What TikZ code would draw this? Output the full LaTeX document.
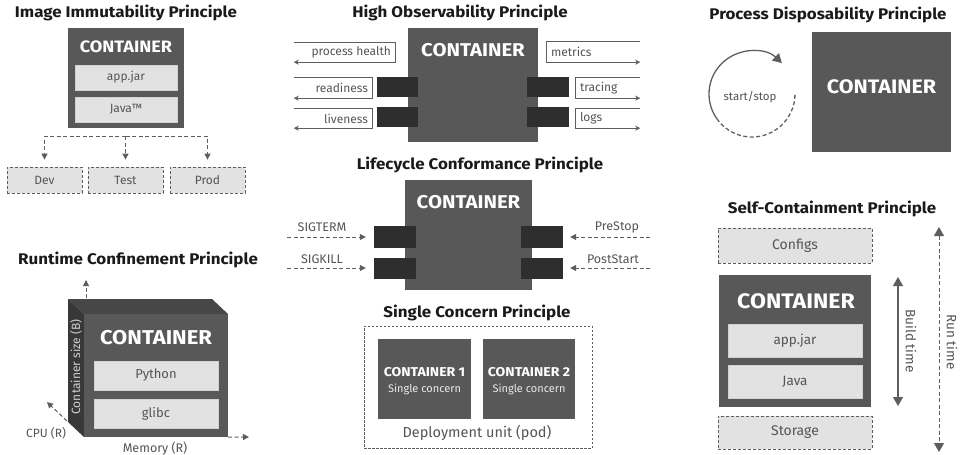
\documentclass[tikz,border=0pt]{standalone}
\usepackage{fontspec}
\setmainfont{Fira Sans}
\newfontfamily\widesans{Fira Sans}[FakeStretch=1.1]
\usetikzlibrary{arrows.meta}

\definecolor{contc}{HTML}{585858}
\definecolor{portc}{HTML}{2E2E2E}
\definecolor{layerc}{HTML}{E2E2E2}
\definecolor{layerd}{HTML}{D2D2D2}
\definecolor{linec}{HTML}{5E5E5E}
\definecolor{txtc}{HTML}{555555}
\definecolor{titlec}{HTML}{1A1A1A}
\definecolor{topc}{HTML}{474747}
\definecolor{sidec}{HTML}{383838}
\definecolor{sidetxt}{HTML}{CFCFCF}

\tikzset{
  title/.style={font=\widesans\fontsize{15.4}{17}\selectfont\bfseries, text=titlec, inner sep=0pt},
  cont/.style={fill=contc, draw=none, inner sep=0pt},
  ctitle/.style={font=\widesans\fontsize{#1}{#1}\selectfont\bfseries, text=white, inner sep=0pt},
  layer/.style={fill=layerc, draw=layerd, line width=0.6pt, text=txtc, inner sep=0pt,
    font=\fontsize{#1}{#1}\selectfont},
  envbox/.style={fill=layerc, draw=linec, dash pattern=on 3pt off 2pt, line width=0.8pt,
    text=txtc, inner sep=0pt, font=\fontsize{#1}{#1}\selectfont},
  port/.style={fill=portc, draw=none, inner sep=0pt},
  lbl/.style={text=txtc, font=\fontsize{#1}{#1}\selectfont, inner sep=0pt},
  framebox/.style={inner sep=0pt, draw=none},
  frameline/.style={draw=linec, line width=0.7pt},
  dsh/.style={draw=linec, line width=1pt, dash pattern=on 4pt off 2.5pt},
  arr/.style={-{Triangle[width=6pt,length=6pt]}},
  smallarr/.style={-{Stealth[width=5pt,length=5pt]}},
  bigarr/.style={-{Triangle[width=10pt,length=9pt]}},
  bigboth/.style={{Triangle[width=10pt,length=9pt]}-{Triangle[width=10pt,length=9pt]}},
}

\begin{document}
\begin{tikzpicture}[x=1pt,y=-1pt]
\useasboundingbox (0,0) rectangle (961,455);
\fill[white] (0,0) rectangle (961,455);

% ---------- Image Immutability ----------
\node[title] (t1) at (126,13) {Image Immutability Principle};
\node[cont, minimum width=116pt, minimum height=100pt] (c1) at (126,78) {};
\node[ctitle=16.5] (c1t) at (126,47) {CONTAINER};
\node[layer=12, minimum width=102pt, minimum height=25pt] (jar1) at (126,77.5) {app.jar};
\node[layer=12, minimum width=102pt, minimum height=25pt] (java1) at (126,109.5) {Java™};
\node[envbox=12, minimum width=75pt, minimum height=26pt] (dev) at (44.5,180) {Dev};
\node[envbox=12, minimum width=75pt, minimum height=26pt] (test) at (125.5,180) {Test};
\node[envbox=12, minimum width=75pt, minimum height=26pt] (prod) at (207.5,180) {Prod};
\coordinate (fork) at (125.5,136);
\draw[dsh, arr, shorten >=7pt] (fork) -| (dev.north);
\draw[dsh, arr, shorten >=7pt] (fork) -- (test.north);
\draw[dsh, arr, shorten >=7pt] (fork) -| (prod.north);

% ---------- Runtime Confinement ----------
\node[title] (t2) at (138,260) {Runtime Confinement Principle};
\fill[topc] (68,299) -- (212,299) -- (228,314) -- (84,314) -- cycle;
\fill[sidec] (68,299) -- (84,314) -- (84,437) -- (68,422) -- cycle;
\node[cont, minimum width=144pt, minimum height=123pt] (cube) at (156,375.5) {};
\node[ctitle=20] (c2t) at (156,338) {CONTAINER};
\node[layer=13, minimum width=124pt, minimum height=29pt] (py) at (156,375.5) {Python};
\node[layer=13, minimum width=124pt, minimum height=29pt] (glibc) at (156,413.5) {glibc};
\node[lbl=12, text=sidetxt, rotate=90] (csz) at (76,367) {Container size (B)};
\coordinate (yax0) at (86,298);
\coordinate (yax) at (86,280);
\draw[dsh, arr] (yax0) -- (yax);
\coordinate (xax) at (249,437);
\draw[dsh, arr] (cube.south east) -- (xax);
\coordinate (zax0) at (67,421);
\coordinate (zax) at (47,402);
\draw[dsh, arr] (zax0) -- (zax);
\node[lbl=12] (cpu) at (46,433) {CPU (R)};
\node[lbl=12.5] (mem) at (155,449) {Memory (R)};

% ---------- High Observability ----------
\node[title] (t3) at (460,13) {High Observability Principle};
\node[cont, minimum width=130pt, minimum height=114pt] (c3) at (473,85) {};
\node[ctitle=18.5] (c3t) at (473,50) {CONTAINER};
\node[port, minimum width=41pt, minimum height=20pt] (pl1) at (397.5,87) {};
\node[port, minimum width=41pt, minimum height=20pt] (pl2) at (397.5,117) {};
\node[port, minimum width=42pt, minimum height=20pt] (pr1) at (548,87) {};
\node[port, minimum width=42pt, minimum height=20pt] (pr2) at (548,117) {};

\node[framebox, minimum width=101pt, minimum height=19pt] (fph) at (344.5,52.5) {};
\node[framebox, minimum width=78pt, minimum height=20pt] (frd) at (333,88) {};
\node[framebox, minimum width=78pt, minimum height=19pt] (flv) at (333,118.5) {};
\node[framebox, minimum width=93pt, minimum height=20pt] (fmt) at (593.5,52) {};
\node[framebox, minimum width=64pt, minimum height=20pt] (ftr) at (608,88) {};
\node[framebox, minimum width=64pt, minimum height=19pt] (flg) at (608,118.5) {};

\node[lbl=12, anchor=east] (lph) at ([xshift=-4pt]fph.east) {process health};
\node[lbl=12, anchor=east] (lrd) at ([xshift=-4pt]frd.east) {readiness};
\node[lbl=12, anchor=east] (llv) at ([xshift=-4pt]flv.east) {liveness};
\node[lbl=12, anchor=west] (lmt) at ([xshift=4pt]fmt.west) {metrics};
\node[lbl=12, anchor=west] (ltr) at ([xshift=4pt]ftr.west) {tracing};
\node[lbl=12, anchor=west] (llg) at ([xshift=4pt]flg.west) {logs};

\foreach \f in {fph,frd,flv}
  \draw[frameline, smallarr] (\f.north west) -- (\f.north east) -- (\f.south east) -- (\f.south west);
\foreach \f in {fmt,ftr,flg}
  \draw[frameline, smallarr] (\f.north east) -- (\f.north west) -- (\f.south west) -- (\f.south east);

% ---------- Lifecycle Conformance ----------
\node[title] (t4) at (480,165) {Lifecycle Conformance Principle};
\node[cont, minimum width=127pt, minimum height=110pt] (c4) at (468.5,235) {};
\node[ctitle=18.5] (c4t) at (468.5,202) {CONTAINER};
\node[port, minimum width=42pt, minimum height=22pt] (ql1) at (395,237) {};
\node[port, minimum width=42pt, minimum height=21pt] (ql2) at (395,268) {};
\node[port, minimum width=42pt, minimum height=22pt] (qr1) at (542,237) {};
\node[port, minimum width=42pt, minimum height=21pt] (qr2) at (542,268) {};
\node[lbl=12.5] (sigterm) at (322,227) {SIGTERM};
\node[lbl=12.5] (sigkill) at (322,259) {SIGKILL};
\node[lbl=12.5] (prestop) at (617,227) {PreStop};
\node[lbl=12.5] (poststart) at (613,259) {PostStart};
\coordinate (sgt) at (287,237);
\coordinate (sgk) at (287,268);
\coordinate (pst) at (650,237);
\coordinate (pos) at (650,268);
\draw[dsh, arr, shorten >=8pt] (sgt) -- (ql1.west);
\draw[dsh, arr, shorten >=8pt] (sgk) -- (ql2.west);
\draw[dsh, arr, shorten >=7pt] (pst) -- (qr1.east);
\draw[dsh, arr, shorten >=7pt] (pos) -- (qr2.east);

% ---------- Single Concern ----------
\node[title] (t5) at (477,313) {Single Concern Principle};
\node[draw=linec, dash pattern=on 2.5pt off 1.5pt, line width=0.8pt, inner sep=0pt,
      minimum width=228pt, minimum height=122pt] (pod) at (478,387) {};
\node[cont, minimum width=93pt, minimum height=80pt] (sc1) at (424.5,379) {};
\node[cont, minimum width=92pt, minimum height=80pt] (sc2) at (529,379) {};
\node[ctitle=12.8] (sc1t) at (424.5,372) {CONTAINER 1};
\node[ctitle=12.8] (sc2t) at (529,372) {CONTAINER 2};
\node[lbl=11, text=white!92!black] (sc1s) at (424.5,389) {Single concern};
\node[lbl=11, text=white!92!black] (sc2s) at (529,389) {Single concern};
\node[lbl=14.5] (podl) at (477,433) {Deployment unit (pod)};

% ---------- Process Disposability ----------
\node[title] (t6) at (828,15) {Process Disposability Principle};
\node[cont, minimum width=139pt, minimum height=120pt] (c6) at (881.5,92) {};
\node[ctitle=19.5] (c6t) at (881.5,87) {CONTAINER};
\coordinate (cyc) at (752,94);
\draw[linec, line width=1.3pt, bigarr] (cyc) ++(-215:43) arc[start angle=-215, end angle=-46, radius=43];
\draw[linec, line width=1.3pt, dash pattern=on 4pt off 2.5pt] (cyc) ++(-215:43) arc[start angle=-215, end angle=-362, radius=43];
\node[lbl=11.5] (ss) at (750,97) {start/stop};

% ---------- Self-Containment ----------
\node[title] (t7) at (832,209) {Self-Containment Principle};
\node[envbox=14, minimum width=154pt, minimum height=35pt] (cfg) at (795,245.5) {Configs};
\node[cont, minimum width=152pt, minimum height=132pt] (c7) at (795,341) {};
\node[ctitle=21] (c7t) at (796,301) {CONTAINER};
\node[layer=13.5, minimum width=134pt, minimum height=33pt] (jar7) at (795,340.5) {app.jar};
\node[layer=13.5, minimum width=134pt, minimum height=33pt] (java7) at (795,381.5) {Java};
\node[envbox=14, minimum width=154pt, minimum height=33pt] (sto) at (795,432.5) {Storage};
\coordinate (bt0) at (898,277);
\coordinate (bt1) at (898,406);
\draw[linec, line width=1.3pt, bigboth] (bt0) -- (bt1);
\node[lbl=13.5, rotate=-90] (btl) at (911,341) {Build time};
\coordinate (rt0) at (939,227);
\coordinate (rt1) at (939,452);
\draw[dsh, bigboth] (rt0) -- (rt1);
\node[lbl=13.5, rotate=-90] (rtl) at (952,342) {Run time};
\end{tikzpicture}
\end{document}
